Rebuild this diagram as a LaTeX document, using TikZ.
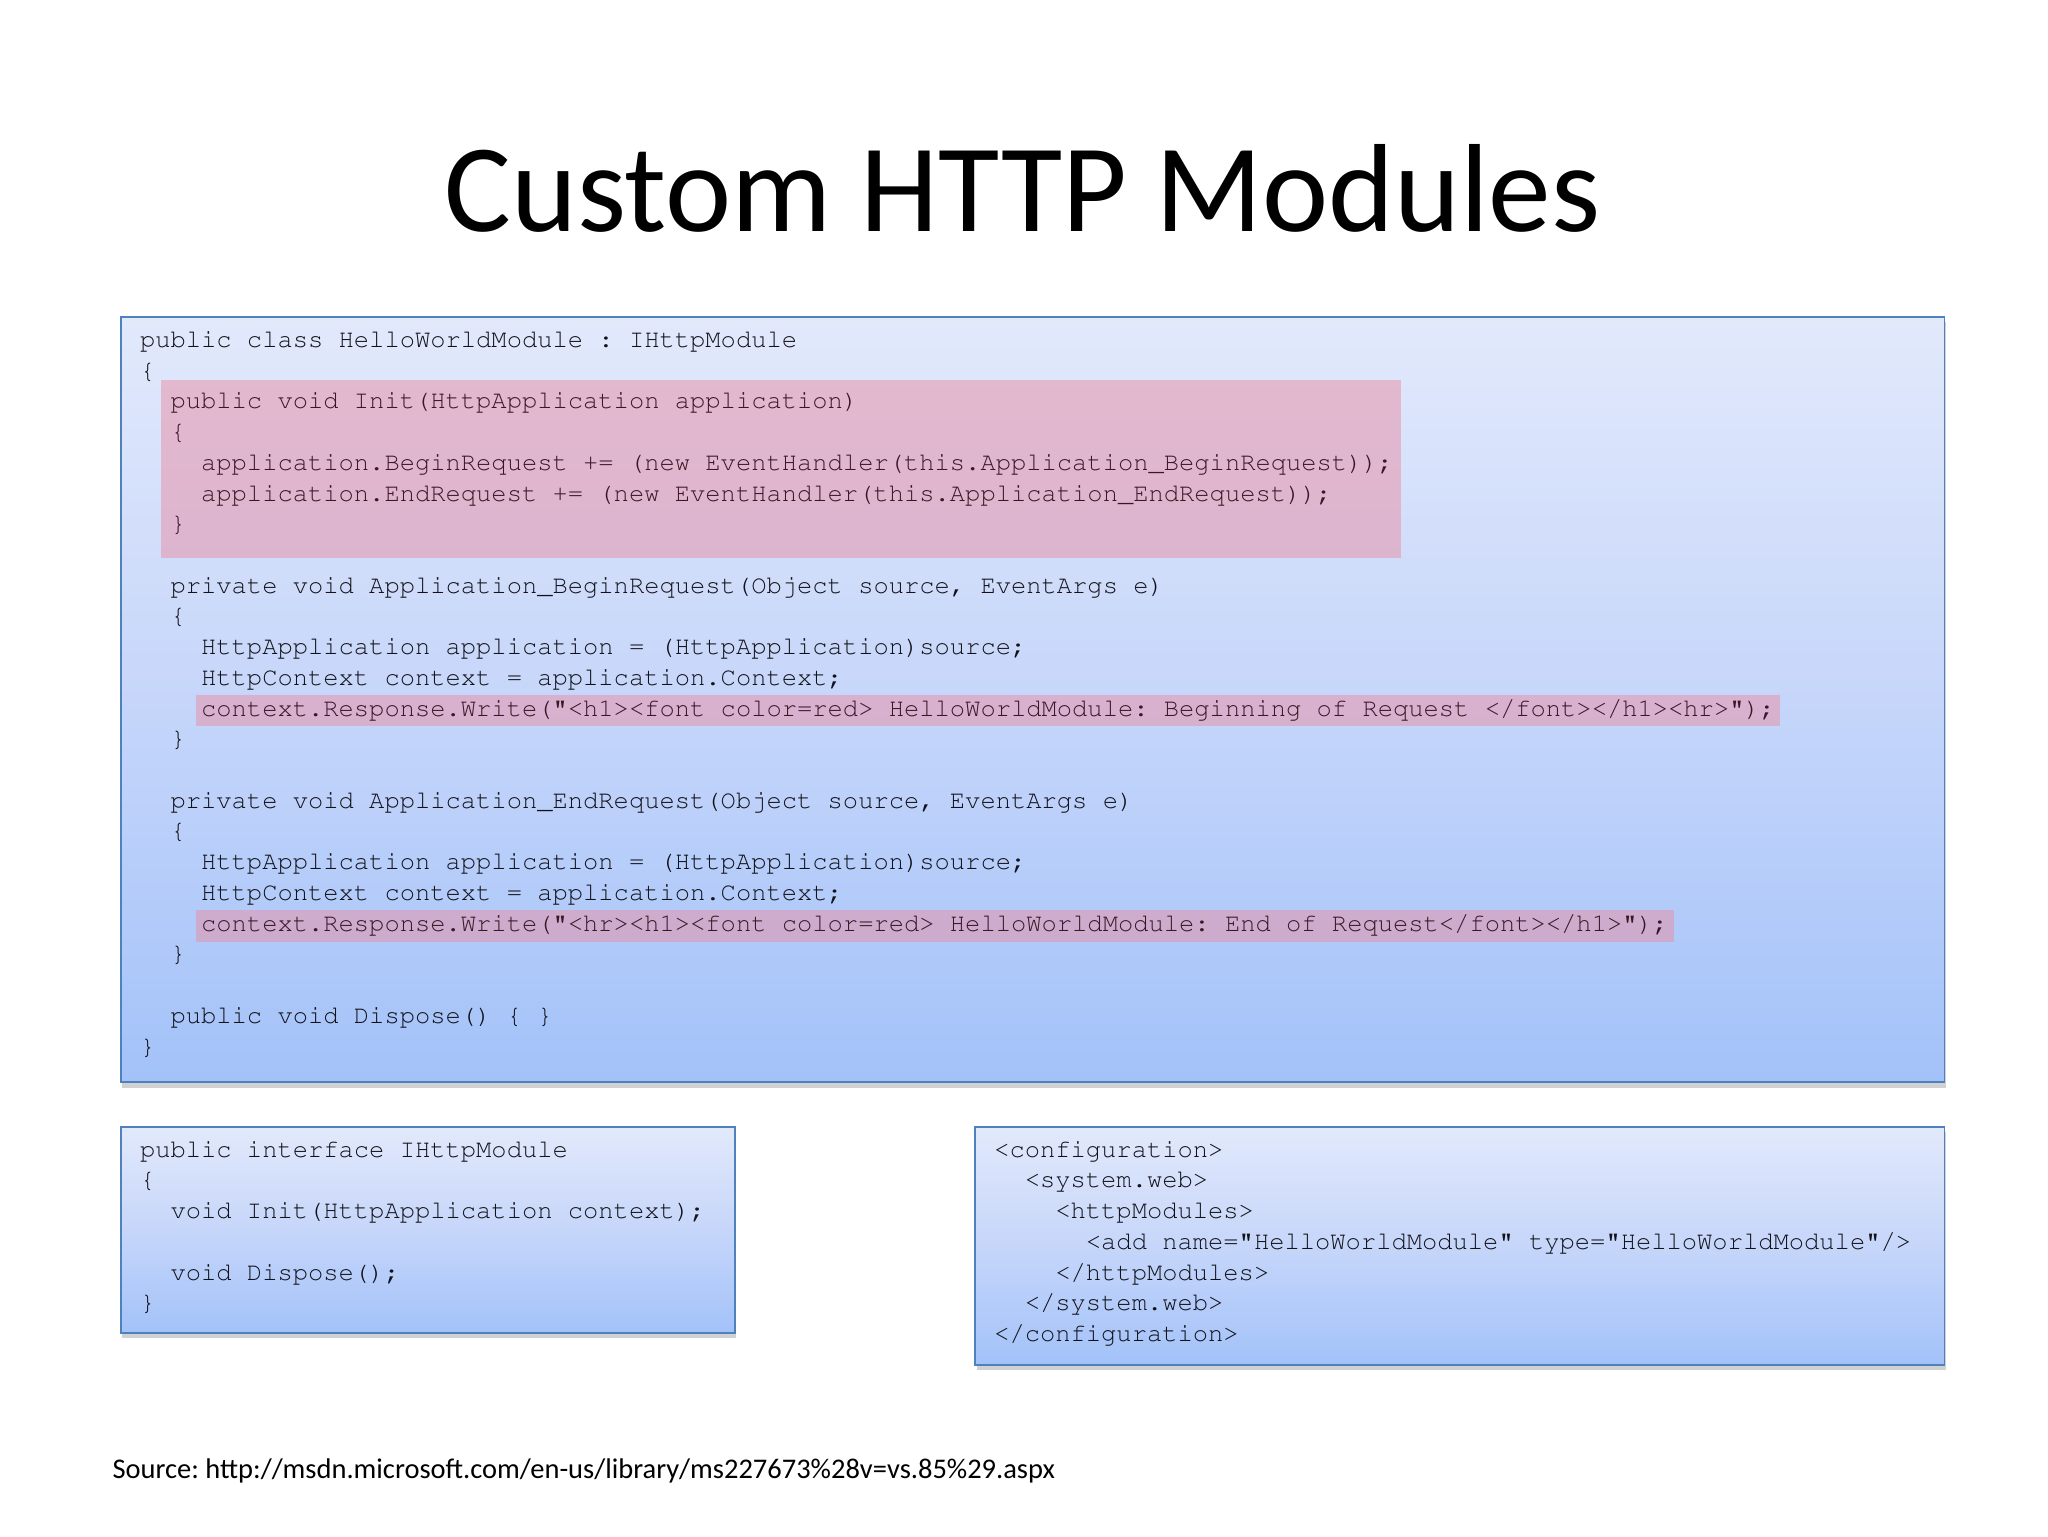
\documentclass[tikz,border=0pt]{standalone}
\usepackage[T1,TU]{fontenc}
\usepackage{fontspec}
\setmainfont{Carlito}
\newcommand\codefont{\fontencoding{T1}\fontfamily{pcr}\selectfont}
\usepackage{tikz}
\usetikzlibrary{shadows}
\definecolor{boxtop}{RGB}{226,233,251}
\definecolor{boxmid}{RGB}{198,214,250}
\definecolor{boxbot}{RGB}{163,194,249}
\definecolor{boxline}{RGB}{79,129,189}
\definecolor{markpink}{RGB}{231,145,167}
\definecolor{codegray}{RGB}{18,18,26}
\definecolor{codered}{RGB}{60,22,38}
\tikzstyle{codebox}=[rectangle,draw=boxline,line width=1.5pt,top color=boxtop,bottom color=boxbot,middle color=boxmid,anchor=north west,inner sep=0pt,drop shadow={shadow xshift=1pt,shadow yshift=-4pt,opacity=.3,fill=black!60}]
\tikzstyle{hilite}=[fill=markpink,fill opacity=.53]
\tikzstyle{codeline}=[anchor=base west,inner sep=0pt,text=codegray,font=\codefont\fontsize{19.5}{23.5}\selectfont\frenchspacing]
\tikzstyle{markline}=[codeline,text=codered]
\tikzstyle{heading}=[anchor=base,inner sep=0pt,font=\fontsize{96}{115}\selectfont]
\tikzstyle{footnote}=[anchor=base west,inner sep=0pt,font=\fontsize{21.8}{26}\selectfont\frenchspacing]

\begin{document}
\begin{tikzpicture}[x=1pt,y=-1pt]
    \useasboundingbox (0,0) rectangle (1568,1176);
    % Title
    \node[heading] (title) at (783,177) {Custom HTTP Modules};

    % First we draw the three boxes
    \node[codebox,minimum width=1396pt,minimum height=586pt] (classbox) at (92,242) {};
    \node[codebox,minimum width=470pt,minimum height=158pt] (ifacebox) at (92,862) {};
    \node[codebox,minimum width=742pt,minimum height=182pt] (configbox) at (746,862) {};

    % Marked parts of the class
    \path[hilite] (123,291) rectangle (1073,427);
    \path[hilite] (150,532) rectangle (1363,556);
    \path[hilite] (150,697) rectangle (1282,721);

    % Lines of the class, indent counts two characters
    \foreach \n/\ind/\txt in {1/0/{public class HelloWorldModule : IHttpModule}, 2/0/{\{},
        9/1/{private void Application\_BeginRequest(Object source, EventArgs e)}, 10/1/{\{},
        11/2/{HttpApplication application = (HttpApplication)source;}, 12/2/{HttpContext context = application.Context;}, 14/1/{\}},
        16/1/{private void Application\_EndRequest(Object source, EventArgs e)}, 17/1/{\{},
        18/2/{HttpApplication application = (HttpApplication)source;}, 19/2/{HttpContext context = application.Context;}, 21/1/{\}},
        23/1/{public void Dispose() \{ \}}, 24/0/{\}}}
        \node[codeline] (cls\n) at ({107+23.4*\ind},{266+23.52*(\n-1)}) {\txt};

    \foreach \n/\ind/\txt in {3/1/{public void Init(HttpApplication application)}, 4/1/{\{},
        5/2/{application.BeginRequest += (new EventHandler(this.Application\_BeginRequest));},
        6/2/{application.EndRequest += (new EventHandler(this.Application\_EndRequest));}, 7/1/{\}},
        13/2/{context.Response.Write("<h1><font color=red> HelloWorldModule: Beginning of Request </font></h1><hr>");},
        20/2/{context.Response.Write("<hr><h1><font color=red> HelloWorldModule: End of Request</font></h1>");}}
        \node[markline] (cls\n) at ({107+23.4*\ind},{266+23.52*(\n-1)}) {\txt};

    % The interface
    \foreach \n/\ind/\txt in {1/0/{public interface IHttpModule}, 2/0/{\{}, 3/1/{void Init(HttpApplication context);},
        5/1/{void Dispose();}, 6/0/{\}}}
        \node[codeline] (ifc\n) at ({107+23.4*\ind},{886+23.52*(\n-1)}) {\txt};

    % The web.config part
    \foreach \n/\ind/\txt in {1/0/{<configuration>}, 2/1/{<system.web>}, 3/2/{<httpModules>},
        4/3/{<add name="HelloWorldModule" type="HelloWorldModule"/>}, 5/2/{</httpModules>},
        6/1/{</system.web>}, 7/0/{</configuration>}}
        \node[codeline] (cfg\n) at ({761+23.4*\ind},{886+23.52*(\n-1)}) {\txt};

    \node[footnote] (source) at (86,1132) {Source: http://msdn.microsoft.com/en-us/library/ms227673\%28v=vs.85\%29.aspx};
\end{tikzpicture}
\end{document}
